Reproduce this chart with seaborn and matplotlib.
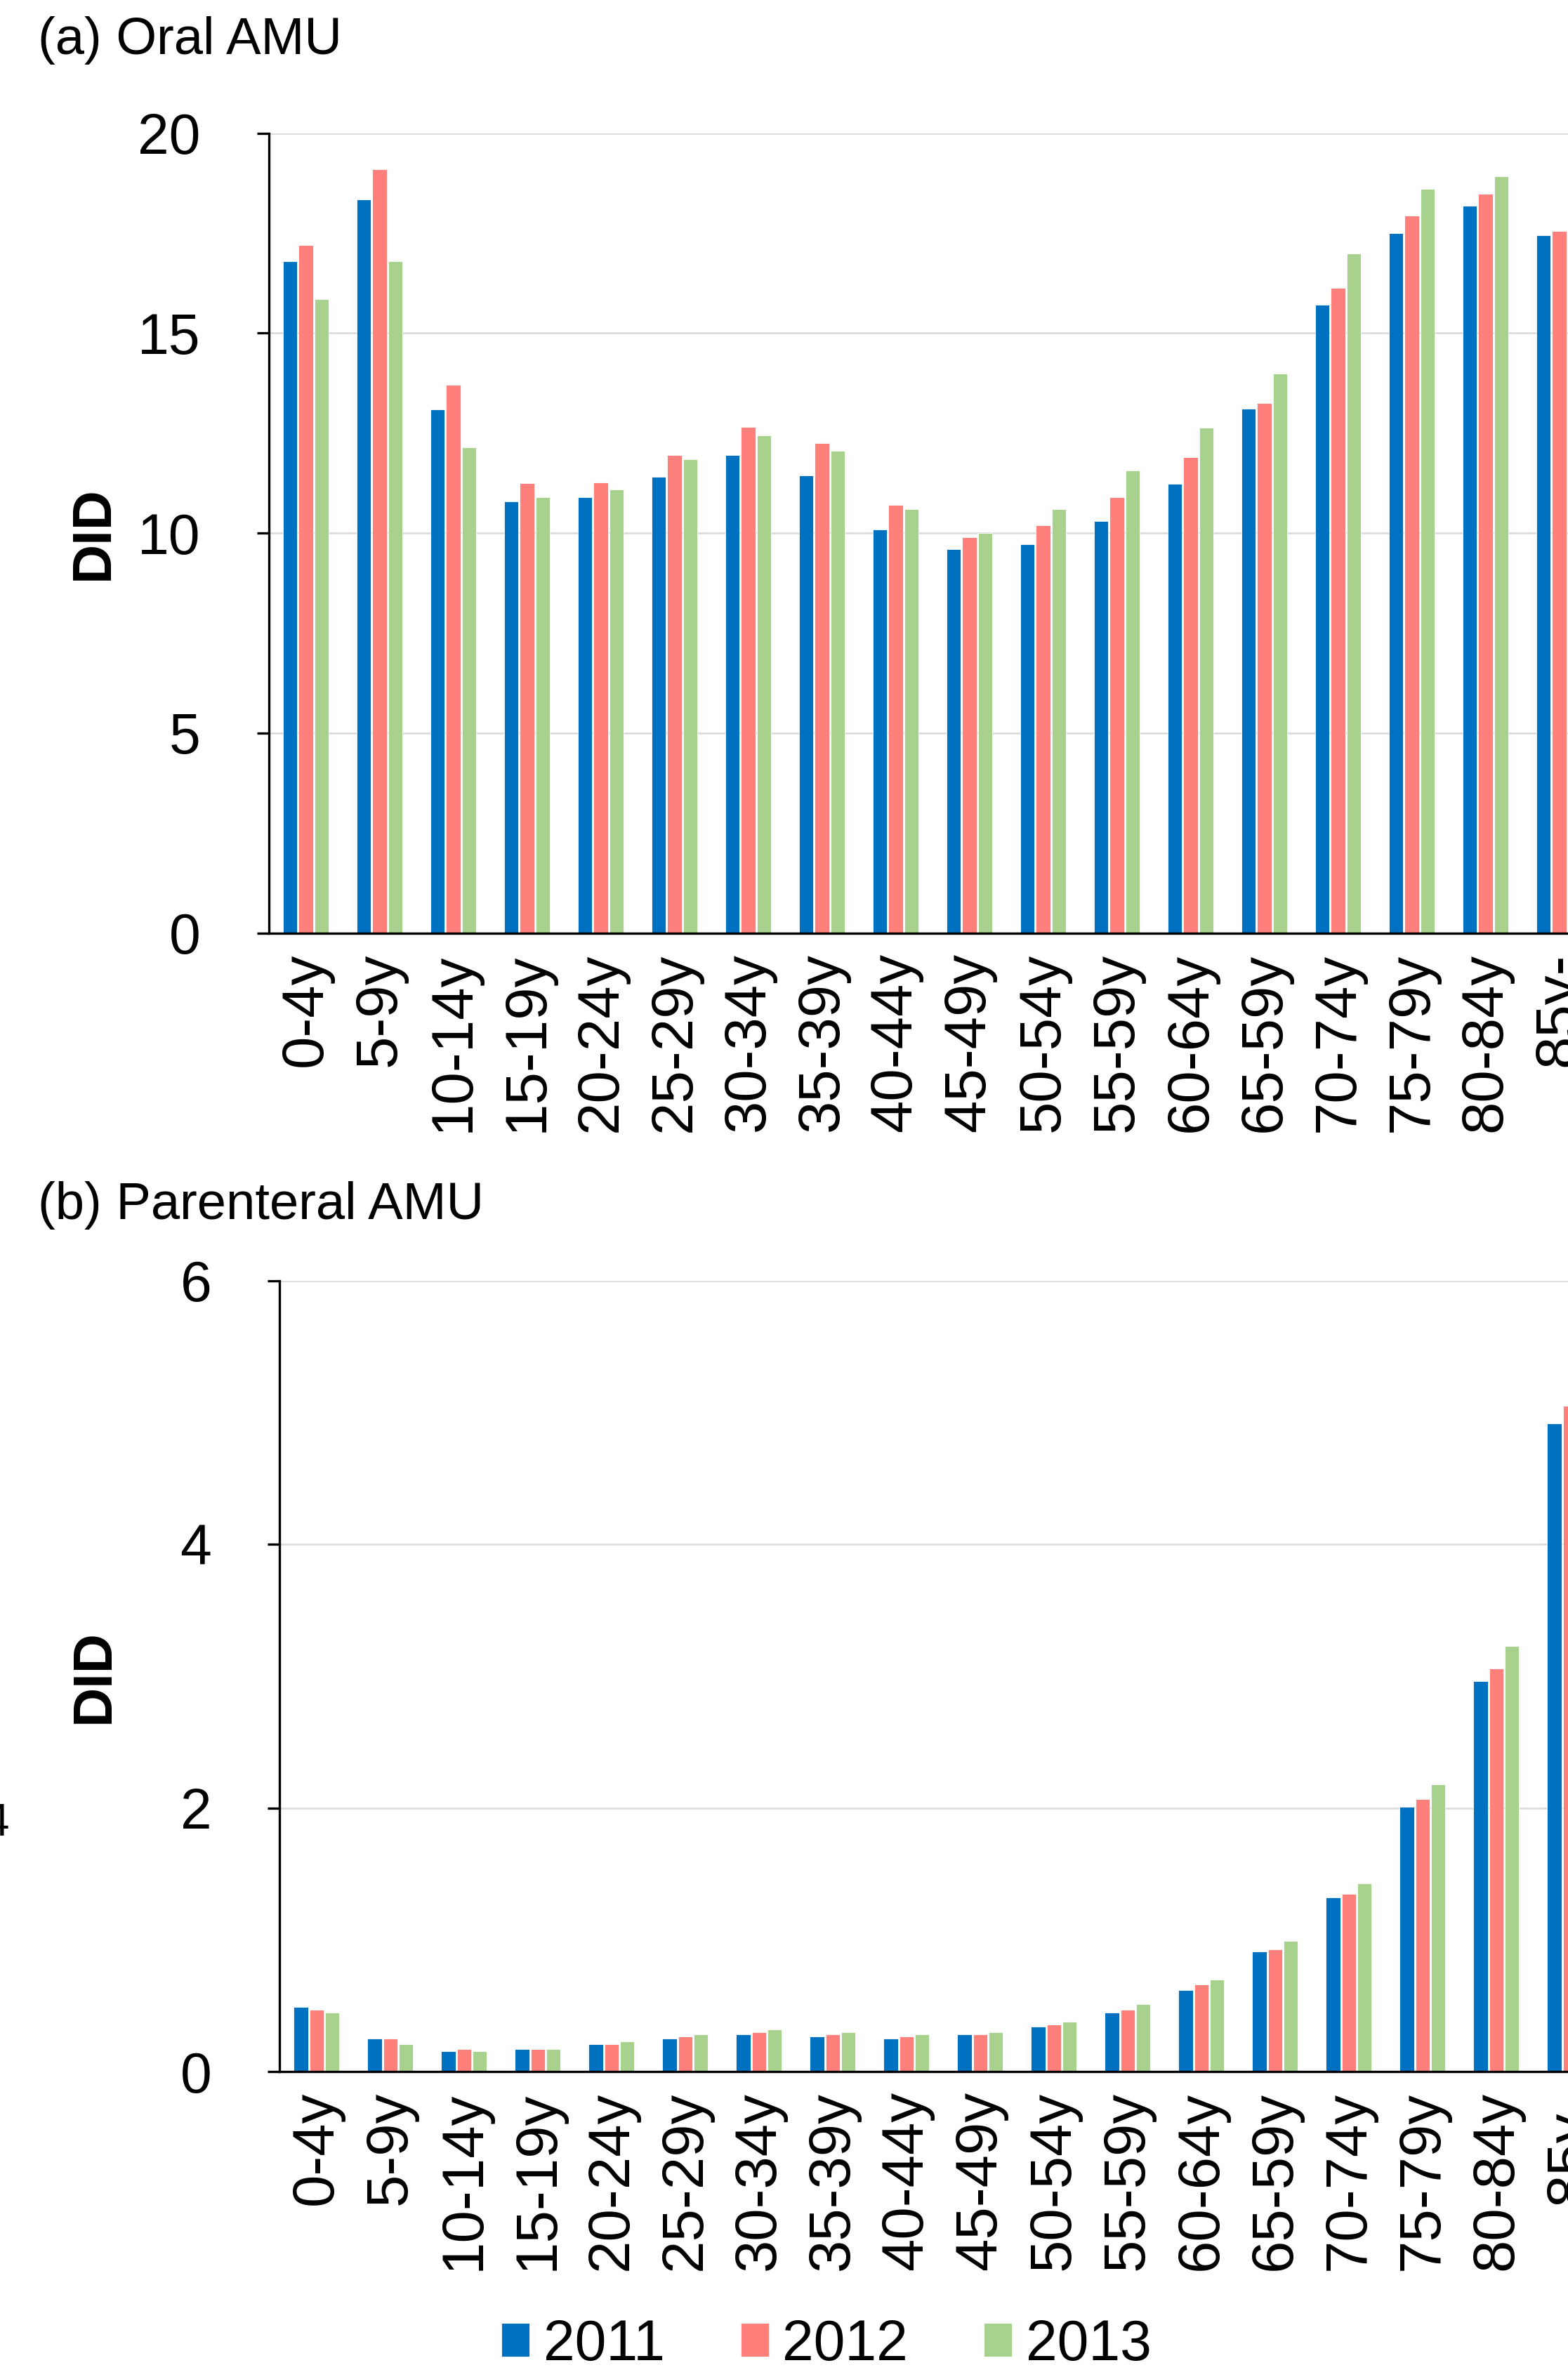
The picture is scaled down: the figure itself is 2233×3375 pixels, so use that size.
import seaborn as sns
import matplotlib.pyplot as plt
import pandas as pd

sns.set_theme(style="whitegrid",
              rc={"text.color": "black", "axes.labelcolor": "black",
                  "xtick.color": "black", "ytick.color": "black"})
plt.rcParams["font.family"] = ["Liberation Sans", "DejaVu Sans"]

# data (DID by age group, 2011-2013)
ages = ["0-4y", "5-9y", "10-14y", "15-19y", "20-24y", "25-29y", "30-34y",
        "35-39y", "40-44y", "45-49y", "50-54y", "55-59y", "60-64y",
        "65-59y", "70-74y", "75-79y", "80-84y", "85y-"]
years = ["2011", "2012", "2013"]

oral_2011 = [16.8, 18.35, 13.1, 10.8, 10.9, 11.4, 11.95, 11.45, 10.1, 9.6,
             9.72, 10.3, 11.23, 13.12, 15.71, 17.5, 18.18, 17.44]
oral_2012 = [17.2, 19.1, 13.7, 11.25, 11.27, 11.95, 12.65, 12.25, 10.7, 9.9,
             10.2, 10.9, 11.9, 13.25, 16.14, 17.94, 18.49, 17.56]
oral_2013 = [15.85, 16.8, 12.15, 10.9, 11.1, 11.85, 12.45, 12.05, 10.6, 10.0,
             10.6, 11.57, 12.63, 13.99, 17.0, 18.61, 18.92, 17.62]

par_2011 = [0.49, 0.25, 0.155, 0.17, 0.21, 0.25, 0.285, 0.265, 0.25, 0.285,
            0.34, 0.45, 0.62, 0.91, 1.32, 2.01, 2.96, 4.92]
par_2012 = [0.47, 0.25, 0.17, 0.17, 0.21, 0.265, 0.30, 0.285, 0.265, 0.285,
            0.36, 0.47, 0.66, 0.93, 1.35, 2.07, 3.06, 5.05]
par_2013 = [0.45, 0.21, 0.155, 0.17, 0.23, 0.285, 0.32, 0.30, 0.285, 0.30,
            0.38, 0.51, 0.70, 0.99, 1.43, 2.18, 3.23, 5.3]

colors = ["#0070C0", "#FF7F7A", "#A9D18E"]


def long_table(s11, s12, s13):
    rows = []
    for yr, vals in zip(years, [s11, s12, s13]):
        for a, v in zip(ages, vals):
            rows.append({"age": a, "year": yr, "DID": v})
    return pd.DataFrame(rows)


fig = plt.figure(figsize=(22.33, 33.75), dpi=100)
ax1 = fig.add_axes([0.1715, 0.6063, 0.8464, 0.3375])
ax2 = fig.add_axes([0.1784, 0.1259, 0.8464, 0.3337])

panels = [
    (ax1, long_table(oral_2011, oral_2012, oral_2013), (0, 20), [0, 5, 10, 15, 20], -0.132),
    (ax2, long_table(par_2011, par_2012, par_2013), (0, 6), [0, 2, 4, 6], -0.140),
]

for ax, df, ylim, yticks, labx in panels:
    sns.barplot(data=df, x="age", y="DID", hue="year", palette=colors,
                saturation=1, width=0.64, gap=0.1, edgecolor="white",
                linewidth=0.6, ax=ax, legend=True)
    ax.set_xlim(-0.5, 17.5)
    ax.set_ylim(*ylim)
    ax.set_yticks(yticks)
    ax.set_facecolor("white")
    ax.grid(axis="y", color="#d9d9d9", linewidth=1.8)
    ax.grid(axis="x", visible=False)
    for side in ["top", "right"]:
        ax.spines[side].set_visible(False)
    for side in ["left", "bottom"]:
        ax.spines[side].set_color("black")
        ax.spines[side].set_linewidth(2.4)
    ax.tick_params(axis="y", which="major", length=12, width=2.4, color="black",
                   pad=58, labelsize=58, left=True)
    ax.tick_params(axis="x", length=0, pad=20, labelsize=60)
    for lab in ax.get_xticklabels():
        lab.set_rotation(90)
    ax.set_xlabel("")
    ax.set_ylabel("DID", fontsize=56, fontweight="bold", va="center")
    ax.yaxis.set_label_coords(labx, 0.5)

handles, labels = ax2.get_legend_handles_labels()
ax1.get_legend().remove()
ax2.get_legend().remove()
fig.legend(handles, labels, loc="center", bbox_to_anchor=(0.527, 0.0105),
           ncol=3, frameon=False, fontsize=58, handlelength=0.5,
           handleheight=0.55, handletextpad=0.24, columnspacing=1.34)

fig.text(0.024, 0.983, "(a) Oral AMU", fontsize=53.5, ha="left", va="center")
fig.text(0.024, 0.4915, "(b) Parenteral AMU", fontsize=53.5, ha="left", va="center")
fig.text(0.006, 0.2305, "4", fontsize=46, ha="right", va="center")

fig.savefig("out.png", dpi=100)
